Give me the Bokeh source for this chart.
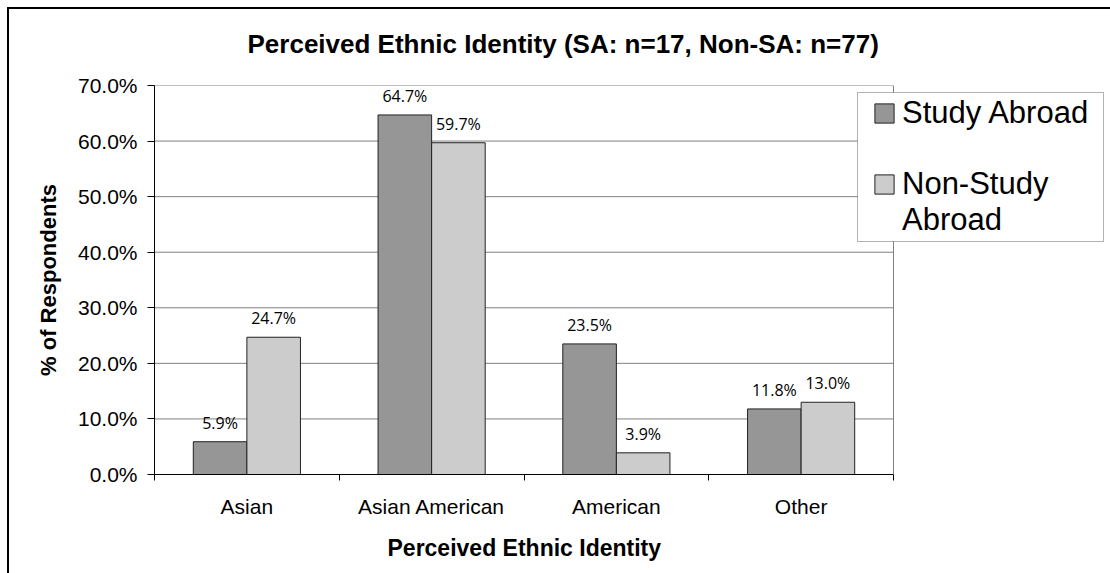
from bokeh.plotting import figure
from bokeh.models import (FixedTicker, PrintfTickFormatter, Legend, LegendItem,
                          ColumnDataSource, LabelSet, Span, Title, BoxAnnotation,
                          InlineStyleSheet)
from bokeh.core.properties import value
from bokeh.embed import file_html
from bokeh.resources import INLINE

# Survey results (% of respondents)
categories = ["Asian", "Asian American", "American", "Other"]
study_abroad = [5.9, 64.7, 23.5, 11.8]
non_study_abroad = [24.7, 59.7, 3.9, 13.0]
y_ticks = [0, 10, 20, 30, 40, 50, 60, 70]

W, H = 1110, 573
N = len(categories)
BAR_W = 0.29
DARK, LIGHT = "#969696", "#cccccc"
GRID = "#808080"
FONT = "Liberation Sans"

# The frame runs to the right edge of the canvas so the legend can sit over
# the plot border; the plotting area itself ends at x = N.
LEFT_PX, PLOT_PX = 154, 739
x_max = N * (W - LEFT_PX) / PLOT_PX

p = figure(width=W, height=H, x_range=(0, x_max), y_range=(0, 70),
           output_backend="svg", toolbar_location=None,
           min_border_left=LEFT_PX, min_border_right=0,
           min_border_top=85, min_border_bottom=99,
           background_fill_color="white", border_fill_color="white")
p.outline_line_color = None

# title
p.title.text = "Perceived Ethnic Identity (SA: n=17, Non-SA: n=77)"
p.title.align = "left"
p.title.offset = 93
p.title.text_font = FONT
p.title.text_font_size = "26px"
p.title.text_font_style = "bold"
p.title.text_color = "black"
p.title.standoff = 53

# horizontal grid lines, limited to the plotting area
p.segment(x0=0, x1=N, y0=y_ticks, y1=y_ticks, line_color=GRID, line_width=1)
p.add_layout(Span(location=N, dimension="height", line_color=GRID, line_width=1))

# bars
centers = [i + 0.5 for i in range(N)]
sa_src = ColumnDataSource(dict(
    x=[c - BAR_W / 2 for c in centers], top=study_abroad,
    label=[f"{v:.1f}%" for v in study_abroad]))
nsa_src = ColumnDataSource(dict(
    x=[c + BAR_W / 2 for c in centers], top=non_study_abroad,
    label=[f"{v:.1f}%" for v in non_study_abroad]))

r_sa = p.vbar(x="x", top="top", width=BAR_W, source=sa_src,
              fill_color=DARK, line_color="#222222", line_width=1)
r_nsa = p.vbar(x="x", top="top", width=BAR_W, source=nsa_src,
               fill_color=LIGHT, line_color="#222222", line_width=1)

for src in (sa_src, nsa_src):
    p.add_layout(LabelSet(x="x", y="top", text="label", source=src,
                          text_align="center", text_baseline="alphabetic",
                          y_offset=13, text_font=value("Open Sans"),
                          text_font_size="16px", text_color="black"))

# axes
p.xaxis.bounds = (0, N)
p.xaxis.ticker = FixedTicker(ticks=centers, minor_ticks=list(range(N + 1)))
p.xaxis.major_label_overrides = {c: name for c, name in zip(centers, categories)}
p.xaxis.major_tick_out = 0
p.xaxis.major_tick_in = 0
p.xaxis.minor_tick_out = 6
p.xaxis.minor_tick_in = 0
p.xaxis.minor_tick_line_color = "black"
p.xaxis.major_label_standoff = 14

p.yaxis.ticker = FixedTicker(ticks=y_ticks)
p.yaxis.formatter = PrintfTickFormatter(format="%.1f%%")
p.yaxis.major_tick_out = 7
p.yaxis.major_tick_in = 0
p.yaxis.minor_tick_line_color = None
p.yaxis.major_label_standoff = 10
p.yaxis.axis_label = "% of Respondents"
p.yaxis.axis_label_standoff = 14

for ax in (p.xaxis, p.yaxis):
    ax.axis_line_color = "black"
    ax.major_tick_line_color = "black"
    ax.major_label_text_font = FONT
    ax.major_label_text_font_size = "21px"
    ax.major_label_text_color = "black"
    ax.axis_label_text_font = FONT
    ax.axis_label_text_font_size = "22px"
    ax.axis_label_text_font_style = "bold"
    ax.axis_label_text_color = "black"

p.xgrid.visible = False
p.ygrid.visible = False

# x-axis title, centred under the plotting area
p.add_layout(Title(text="Perceived Ethnic Identity", align="left", offset=233,
                   text_font=FONT, text_font_size="23px", text_font_style="bold",
                   text_color="black", standoff=25), "below")

# legend box (white, covering the grid), then the entries on top of it
p.add_layout(BoxAnnotation(left=857, right=1103, top=92, bottom=241,
                           left_units="canvas", right_units="canvas",
                           top_units="canvas", bottom_units="canvas",
                           fill_color="white", fill_alpha=1,
                           line_color="black", line_width=1))

# the second entry wraps onto two lines, with a blank row before it
legend = Legend(items=[LegendItem(label="Study Abroad", renderers=[r_sa]),
                       LegendItem(label=" ", renderers=[]),
                       LegendItem(label="Non-Study", renderers=[r_nsa]),
                       LegendItem(label="Abroad", renderers=[])],
                location=(718, 236), orientation="vertical",
                border_line_color=None, background_fill_alpha=0,
                label_text_font=FONT, label_text_font_size="31px",
                label_text_color="black", label_height=35,
                glyph_width=24, glyph_height=24, label_standoff=6,
                padding=4, spacing=0, margin=0)
p.add_layout(legend)

# frame around the whole chart
p.stylesheets = [InlineStyleSheet(css="""
:host { position: relative; }
:host::after {
  content: ""; position: absolute; left: 7px; top: 7px;
  width: 2000px; height: 2000px;
  border-left: 2px solid black; border-top: 2px solid black;
  pointer-events: none;
}
""")]

open("out.html", "w").write(file_html(p, INLINE))
